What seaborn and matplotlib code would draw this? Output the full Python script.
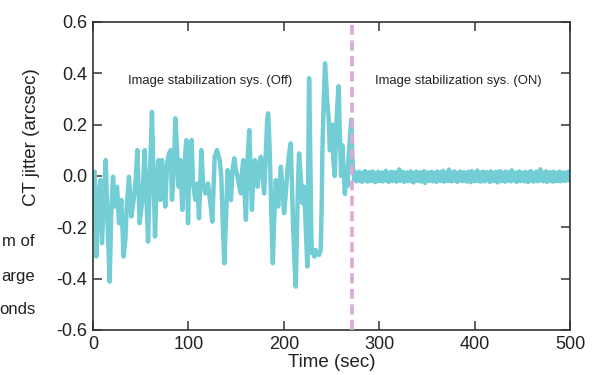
import matplotlib
matplotlib.use("Agg")
import matplotlib.pyplot as plt
import seaborn as sns
import pandas as pd
from matplotlib.ticker import FormatStrFormatter

# ---- data ----
off_time = [0, 1.7, 3.5, 5.2, 7.7, 9.4, 11.2, 13.3, 15.4, 17.5, 19.2, 21.0, 22.7, 25.2, 27.3,
            29.7, 32.1, 33.9, 35.6, 37.7, 40.2, 42.6, 44.7, 46.5, 48.9, 51.7, 54.2, 55.9, 57.7,
            59.4, 61.8, 63.6, 65.0, 67.1, 68.8, 70.6, 72.3, 74.4, 75.8, 77.6, 79.7, 81.4, 82.8,
            84.6, 86.3, 88.1, 89.8, 91.5, 93.6, 95.7, 97.8, 99.6, 101.3, 103.4, 104.8, 107.3,
            109.4, 111.1, 113.6, 115.3, 117.8, 120.5, 123.0, 125.1, 127.5, 130.0, 132.8, 134.5,
            135.9, 137.6, 139.4,
            141.1, 142.9, 144.6, 146.3, 148.1, 149.8, 151.6, 153.3, 155.1, 156.1, 157.5, 158.9,
            160.3, 161.7, 162.7, 163.8, 165.2, 166.6, 167.9, 169.7, 171.1, 172.5, 174.2, 176.0,
            177.7, 179.4, 181.2, 182.6, 183.6, 184.7, 185.7, 187.1, 188.5, 189.9, 191.6, 193.0,
            194.1, 195.5, 196.9, 198.6, 200.3, 202.1, 203.8, 205.6, 207.3, 208.4, 209.8, 211.1,
            212.5, 213.9, 215.0, 216.0, 217.8, 219.5, 221.3, 223.0, 224.7, 225.4, 226.5, 227.5,
            228.6, 229.3, 230.7, 232.1, 233.4, 234.8, 236.9, 238.7, 239.7, 240.4, 241.8, 243.2,
            244.3, 245.6, 247.0, 248.3, 249.5, 250.8, 252.0, 253.4, 254.8, 256.2, 257.5, 258.8,
            260.0, 261.3, 262.6, 264.0, 265.3, 266.7, 268.0, 269.5, 270.8, 272.0]
off_jitter = [0.010, 0.017, -0.314, -0.093, -0.016, -0.262, -0.093, 0.062, -0.197, -0.412,
              -0.132, -0.003, -0.119, -0.042, -0.184, -0.093, -0.314, -0.249, -0.106, -0.003,
              -0.158, -0.093, -0.016, 0.101, -0.184, -0.093, 0.101, -0.068, -0.256, -0.029,
              0.250, -0.029, -0.236, 0.010, 0.062, -0.093, 0.062, -0.055, -0.119, 0.049,
              0.088, 0.101, -0.093, 0.010, 0.225, 0.101, -0.042, 0.062, -0.132, 0.036,
              0.140, -0.184, 0.101, 0.140, -0.029, -0.093, -0.029, -0.165, 0.101, -0.029,
              -0.068, -0.029, -0.106, -0.178, 0.075, 0.101, 0.062, -0.003,
              -0.171, -0.340, -0.171,
              0.023, -0.016, -0.094, 0.023, 0.069,
              0.023, -0.003, -0.042, -0.068, 0.010, 0.062, -0.068, -0.171, 0.023, 0.114,
              0.179, 0.023, -0.132, -0.016, 0.062, 0.010, -0.042, 0.049, 0.075, -0.003,
              -0.068, 0.088, 0.218, 0.244, 0.153, 0.036, -0.171, -0.340, -0.171, -0.016,
              -0.068, -0.119, -0.042, 0.036, -0.042, -0.145, -0.068, 0.023, 0.088, 0.127,
              -0.016, -0.197, -0.327, -0.431, -0.197, -0.016, 0.088, -0.003, -0.106, -0.042,
              -0.197, -0.353, -0.042, 0.381, 0.153, -0.171, -0.301, -0.288, -0.314, -0.288,
              -0.301, -0.308, -0.288, -0.119, 0.088, 0.283, 0.439, 0.374, 0.283, 0.230,
              0.100, 0.160, 0.200, 0.060, 0.000, 0.170, 0.280, 0.350, 0.150, 0.000,
              0.120, 0.040, -0.070, 0.030, -0.040, 0.080, 0.160, 0.220, 0.060]

on_time = list(range(273, 501))
on_jitter = [
    0.010, -0.016, 0.014, -0.021, 0.006, -0.013, 0.017, -0.019, 0.009, -0.023, 0.013, -0.010,
    0.019, -0.018, 0.005, -0.022, 0.015, -0.012, 0.010, -0.020, 0.018, -0.015, 0.008, -0.024,
    0.012, -0.010, 0.016, -0.019, 0.006, -0.017, 0.014, -0.021, 0.011, -0.012, 0.020, -0.018,
    0.009, -0.023, 0.013, -0.015, 0.017, -0.020, 0.007, -0.014, 0.015, -0.022, 0.010, -0.016,
    0.026, -0.019, 0.012, -0.011, 0.016, -0.023, 0.008, -0.018, 0.014, -0.020, 0.011, -0.013,
    0.018, -0.021, 0.009, -0.025, 0.013, -0.014, 0.017, -0.019, 0.006, -0.016, 0.015, -0.022,
    0.011, -0.012, 0.019, -0.027, 0.010, -0.017, 0.014, -0.020, 0.012, -0.015, 0.016, -0.021,
    0.008, -0.018, 0.013, -0.023, 0.017, -0.011, 0.009, -0.019, 0.015, -0.016, 0.020, -0.022,
    0.007, -0.014, 0.012, -0.020, 0.025, -0.017, 0.010, -0.021, 0.014, -0.015, 0.018, -0.019,
    0.008, -0.023, 0.013, -0.012, 0.017, -0.018, 0.011, -0.020, 0.015, -0.014, 0.009, -0.022,
    0.016, -0.017, 0.012, -0.024, 0.019, -0.013, 0.008, -0.020, 0.014, -0.016, 0.021, -0.019,
    0.010, -0.022, 0.013, -0.015, 0.017, -0.021, 0.007, -0.018, 0.015, -0.013, 0.011, -0.023,
    0.018, -0.016, 0.009, -0.020, 0.014, -0.012, 0.016, -0.025, 0.012, -0.017, 0.019, -0.020,
    0.008, -0.014, 0.013, -0.022, 0.017, -0.016, 0.010, -0.019, 0.015, -0.021, 0.022, -0.013,
    0.009, -0.018, 0.014, -0.023, 0.011, -0.015, 0.018, -0.020, 0.007, -0.017, 0.013, -0.021,
    0.016, -0.012, 0.010, -0.024, 0.015, -0.016, 0.019, -0.019, 0.008, -0.022, 0.012, -0.014,
    0.017, -0.020, 0.011, -0.018, 0.026, -0.015, 0.009, -0.021, 0.014, -0.017, 0.018, -0.023,
    0.010, -0.013, 0.015, -0.019, 0.012, -0.022, 0.016, -0.016, 0.008, -0.020, 0.013, -0.018,
    0.017, -0.021, 0.011, -0.015, 0.014, -0.019, 0.009, -0.017, 0.015, -0.012, 0.018, -0.020]

switch_time = 272
x_ticks = [0, 100, 200, 300, 400, 500]
y_ticks = [-0.6, -0.4, -0.2, 0.0, 0.2, 0.4, 0.6]
label_off = "Image stabilization sys. (Off)"
label_on = "Image stabilization sys. (ON)"
side_text = ["m of", "arge", "onds"]

# ---- style ----
sns.set_theme(style="white")
plt.rcParams["font.family"] = ["Liberation Sans", "DejaVu Sans"]
plt.rcParams["axes.unicode_minus"] = False
text_color = "#222222"
line_color = "#72CDD5"
dash_color = "#DDA8D6"

df = pd.DataFrame({"Time": off_time + on_time, "Jitter": off_jitter + on_jitter})

fig = plt.figure(figsize=(6.08, 3.75), dpi=100)
ax = fig.add_axes([93 / 608, 1 - 330 / 375, 477 / 608, 308 / 375])

sns.lineplot(data=df, x="Time", y="Jitter", ax=ax, color=line_color, linewidth=3.2,
             estimator=None, sort=True)
ax.axvline(switch_time, color=dash_color, linewidth=2.6, linestyle=(0, (2.8, 1.5)), zorder=5)

ax.set_xlim(0, 500)
ax.set_ylim(-0.6, 0.6)
ax.set_xticks(x_ticks)
ax.set_yticks(y_ticks)
ax.yaxis.set_major_formatter(FormatStrFormatter("%.1f"))
ax.tick_params(direction="in", length=6.5, width=1.1, color="#333333",
               top=True, right=True, bottom=True, left=True,
               labelsize=13, labelcolor=text_color, pad=4)
for s in ax.spines.values():
    s.set_color("#333333")
    s.set_linewidth(1.2)
    s.set_visible(True)

ax.set_xlabel("Time (sec)", fontsize=13.5, color=text_color, labelpad=1)
ax.set_ylabel("CT jitter (arcsec)", fontsize=13.5, color=text_color)
ax.yaxis.set_label_coords(-0.111, 0.627)

ax.text(122.6, 0.37, label_off, ha="center", va="center", fontsize=9.4, color=text_color)
ax.text(382.6, 0.37, label_on, ha="center", va="center", fontsize=9.4, color=text_color)

for txt, ypix in zip(side_text, [242, 277, 310]):
    fig.text(35 / 608, 1 - ypix / 375, txt, ha="right", va="center", fontsize=12,
             color=text_color)

fig.savefig("out.png", dpi=100)
